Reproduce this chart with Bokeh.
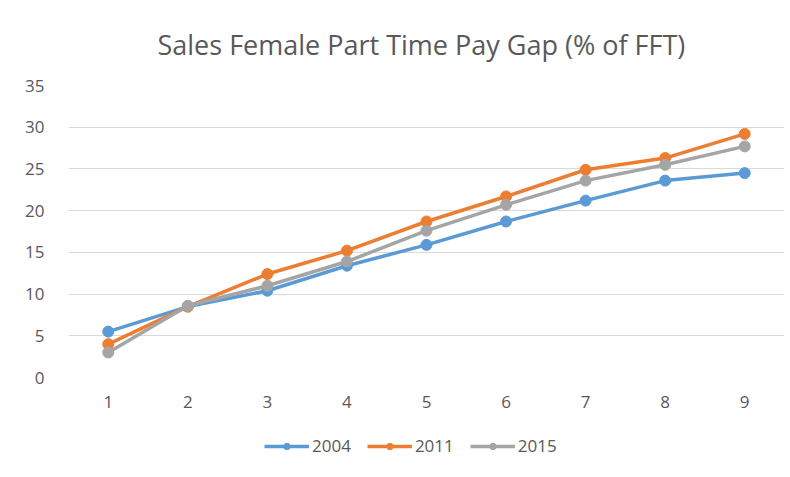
from bokeh.plotting import figure
from bokeh.models import Range1d, FixedTicker, Legend, LegendItem
from bokeh.layouts import column
from bokeh.embed import file_html
from bokeh.resources import INLINE

categories = [1, 2, 3, 4, 5, 6, 7, 8, 9]
s2004 = [5.5, 8.5, 10.4, 13.4, 15.9, 18.7, 21.2, 23.6, 24.5]
s2011 = [4.0, 8.5, 12.4, 15.2, 18.7, 21.7, 24.9, 26.3, 29.2]
s2015 = [3.0, 8.6, 11.0, 13.9, 17.6, 20.7, 23.6, 25.5, 27.7]
y_ticks = [0, 5, 10, 15, 20, 25, 30, 35]
title_text = "Sales Female Part Time Pay Gap (% of FFT)"
names = ["2004", "2011", "2015"]
colors = ["#5B9BD5", "#ED7D31", "#A5A5A5"]

FONT = "Open Sans"
GREY_TXT = "#595959"

p = figure(width=790, height=425, output_backend="svg", toolbar_location=None,
           x_range=Range1d(0.5, 9.5), y_range=Range1d(0, 35),
           min_border_left=68, min_border_right=6, min_border_top=85, min_border_bottom=48)

p.title.text = title_text
p.title.text_font = FONT
p.title.text_font_size = "27px"
p.title.text_font_style = "normal"
p.title.text_color = GREY_TXT
p.title.align = "left"
p.title.offset = 89
p.title.standoff = 46

p.outline_line_color = None
p.xgrid.grid_line_color = None
p.ygrid.grid_line_color = "#d9d9d9"
p.ygrid.grid_line_width = 1

p.yaxis.ticker = FixedTicker(ticks=y_ticks)
p.xaxis.ticker = FixedTicker(ticks=categories)
for ax in (p.xaxis[0], p.yaxis[0]):
    ax.axis_line_color = None
    ax.major_tick_line_color = None
    ax.minor_tick_line_color = None
    ax.major_label_text_font = FONT
    ax.major_label_text_font_size = "17px"
    ax.major_label_text_color = GREY_TXT
p.yaxis.major_label_standoff = 18
p.xaxis.major_label_standoff = 12

for series, c in zip([s2004, s2011, s2015], colors):
    p.line(categories, series, line_color=c, line_width=3.5)
    p.scatter(categories, series, size=11, fill_color=c, line_color=c)

# legend strip below
lf = figure(width=790, height=52, output_backend="svg", toolbar_location=None,
            x_range=Range1d(0, 1), y_range=Range1d(0, 1),
            x_axis_type=None, y_axis_type=None,
            min_border_left=0, min_border_right=0, min_border_top=0, min_border_bottom=0)
lf.outline_line_color = None
lf.xgrid.grid_line_color = None
lf.ygrid.grid_line_color = None
items = []
for n, c in zip(names, colors):
    l = lf.line([-5, -4], [-5, -4], line_color=c, line_width=3.5)
    m = lf.scatter([-5], [-5], size=11, fill_color=c, line_color=c)
    items.append(LegendItem(label=n, renderers=[l, m]))
legend = Legend(items=items, orientation="horizontal", location=(196, 20),
                label_text_font=FONT, label_text_font_size="17px",
                label_text_color=GREY_TXT, border_line_color=None,
                background_fill_alpha=0,
                glyph_width=45, glyph_height=16, spacing=16, padding=0,
                margin=0, label_standoff=3)
lf.add_layout(legend)

layout = column(p, lf, spacing=0)
open("out.html", "w").write(file_html(layout, INLINE))
